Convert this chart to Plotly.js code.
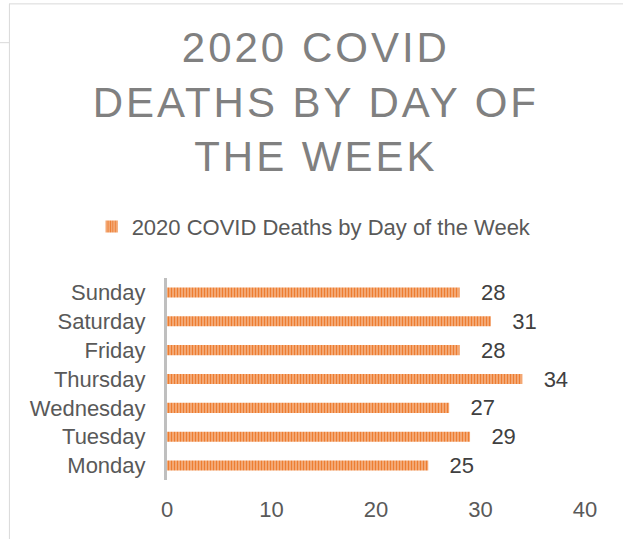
<!DOCTYPE html>
<html>
<head>
<meta charset="utf-8">
<script src="https://cdn.plot.ly/plotly-3.0.1.min.js"></script>
<style>
html,body{margin:0;padding:0;background:#fff;}
#chart{width:623px;height:539px;}
.gtitle{letter-spacing:3px;}
</style>
</head>
<body>
<div id="chart"></div>
<script>
var days = ["Monday","Tuesday","Wednesday","Thursday","Friday","Saturday","Sunday"];
var deaths = [25, 29, 27, 34, 28, 31, 28];
var seriesName = "2020 COVID Deaths by Day of the Week";
var chartTitle = "2020 COVID<br>DEATHS BY DAY OF<br>THE WEEK";
var xTicks = [0, 10, 20, 30, 40];

var FONT = "Liberation Sans, Arial, sans-serif";

var trace = {
  type: "bar",
  orientation: "h",
  y: days,
  x: deaths,
  name: seriesName,
  width: 0.35,
  text: deaths.map(function(v){ return "\u00A0\u00A0\u00A0" + v; }),
  textposition: "outside",
  constraintext: "none",
  cliponaxis: false,
  textfont: {family: FONT, size: 22, color: "#404040"},
  marker: {
    color: "#F4B183",
    line: {width: 0},
    pattern: {shape: "|", size: 3, solidity: 0.6, fgcolor: "#ED7D31", bgcolor: "#F8C4A0", fillmode: "replace"}
  },
  hoverinfo: "skip"
};

var layout = {
  width: 623,
  height: 539,
  paper_bgcolor: "#ffffff",
  plot_bgcolor: "#ffffff",
  margin: {l: 167, r: 38, t: 277.5, b: 58.5},
  font: {family: FONT, color: "#595959"},
  title: {
    text: chartTitle,
    font: {family: FONT, size: 42, color: "#808080"},
    xref: "container", x: 0.507, xanchor: "center",
    yref: "container", y: 0.885, yanchor: "middle"
  },
  showlegend: true,
  legend: {
    orientation: "h",
    x: 0.352, xanchor: "center",
    y: 1.254, yanchor: "middle",
    font: {family: FONT, size: 22, color: "#595959"},
    itemwidth: 30
  },
  xaxis: {
    range: [0, 40],
    tickvals: xTicks,
    showgrid: false,
    zeroline: false,
    showline: false,
    ticks: "",
    ticklabelstandoff: 14,
    tickfont: {family: FONT, size: 22, color: "#595959"},
    fixedrange: true
  },
  yaxis: {
    categoryorder: "array",
    categoryarray: days,
    showgrid: false,
    zeroline: false,
    showline: true,
    linecolor: "#BFBFBF",
    linewidth: 3,
    ticks: "",
    ticklabelstandoff: 14,
    tickfont: {family: FONT, size: 22, color: "#595959"},
    fixedrange: true
  },
  bargap: 0.65,
  shapes: [
    {type: "line", xref: "paper", yref: "paper", x0: -0.378, x1: 1.1, y0: 2.357, y1: 2.357, line: {color: "#D9D9D9", width: 1}},
    {type: "line", xref: "paper", yref: "paper", x0: -0.377, x1: -0.377, y0: 2.357, y1: -0.3, line: {color: "#D9D9D9", width: 1}},
    {type: "line", xref: "paper", yref: "paper", x0: -0.41, x1: -0.378, y0: 2.165, y1: 2.165, line: {color: "#D9D9D9", width: 1}}
  ]
};

Plotly.newPlot("chart", [trace], layout, {displayModeBar: false, staticPlot: true});
</script>
</body>
</html>
